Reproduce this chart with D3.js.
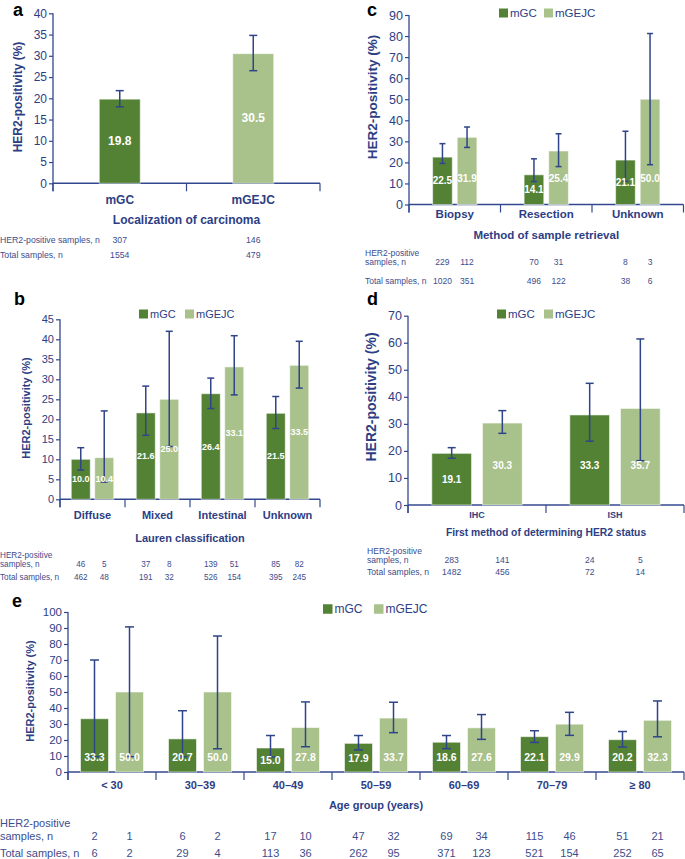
<!DOCTYPE html>
<html><head><meta charset="utf-8">
<script src="https://cdn.jsdelivr.net/npm/d3@7"></script>
<style>body{margin:0;background:#fff} svg{display:block}</style>
</head><body><svg id="chart" width="685" height="859"></svg>
<script>
// ---------------- DATA ----------------
const seriesNames = ["mGC", "mGEJC"];

// Panel a – localization of carcinoma
const aCategories = ["mGC", "mGEJC"];
const aValues = [19.8, 30.5];
const aLow = [18.0, 26.5];
const aHigh = [21.8, 34.8];
const aPositive = [307, 146];
const aTotal = [1554, 479];

// Panel b – Lauren classification
const bCategories = ["Diffuse", "Mixed", "Intestinal", "Unknown"];
const bGC = [10.0, 21.6, 26.4, 21.5];
const bGEJC = [10.4, 25.0, 33.1, 33.5];
const bGCLow = [7.3, 16.0, 22.7, 17.7];
const bGCHigh = [12.9, 28.3, 30.3, 25.7];
const bGEJCLow = [4.3, 13.2, 26.1, 27.8];
const bGEJCHigh = [22.1, 42.0, 40.9, 39.5];
const bGCPositive = [46, 37, 139, 85];
const bGEJCPositive = [5, 8, 51, 82];
const bGCTotal = [462, 191, 526, 395];
const bGEJCTotal = [48, 32, 154, 245];

// Panel c – method of sample retrieval
const cCategories = ["Biopsy", "Resection", "Unknown"];
const cGC = [22.5, 14.1, 21.1];
const cGEJC = [31.9, 25.4, 50.0];
const cGCLow = [19.5, 10.9, 11.0];
const cGCHigh = [28.9, 21.7, 34.8];
const cGEJCLow = [27.1, 18.0, 18.9];
const cGEJCHigh = [36.8, 33.6, 81.2];
const cGCPositive = [229, 70, 8];
const cGEJCPositive = [112, 31, 3];
const cGCTotal = [1020, 496, 38];
const cGEJCTotal = [351, 122, 6];

// Panel d – first method of determining HER2 status
const dCategories = ["IHC", "ISH"];
const dGC = [19.1, 33.3];
const dGEJC = [30.3, 35.7];
const dGCLow = [17.3, 23.6];
const dGCHigh = [21.2, 45.0];
const dGEJCLow = [26.5, 16.4];
const dGEJCHigh = [34.9, 61.4];
const dGCPositive = [283, 24];
const dGEJCPositive = [141, 5];
const dGCTotal = [1482, 72];
const dGEJCTotal = [456, 14];

// Panel e – age group
const eCategories = ["< 30", "30–39", "40–49", "50–59", "60–69", "70–79", "≥ 80"];
const eGC = [33.3, 20.7, 15.0, 17.9, 18.6, 22.1, 20.2];
const eGEJC = [50.0, 50.0, 27.8, 33.7, 27.6, 29.9, 32.3];
const eGCLow = [9.6, 9.6, 9.4, 13.8, 14.6, 18.5, 15.6];
const eGCHigh = [70.0, 38.3, 22.8, 22.8, 22.8, 25.8, 25.3];
const eGEJCLow = [9.6, 14.5, 15.8, 24.6, 20.4, 22.9, 22.0];
const eGEJCHigh = [90.7, 85.0, 43.8, 43.6, 35.9, 37.3, 44.4];
const eGCPositive = [2, 6, 17, 47, 69, 115, 51];
const eGEJCPositive = [1, 2, 10, 32, 34, 46, 21];
const eGCTotal = [6, 29, 113, 262, 371, 521, 252];
const eGEJCTotal = [2, 4, 36, 95, 123, 154, 65];

// ---------------- STYLE ----------------
const FONT = "'Liberation Sans', Arial, Helvetica, sans-serif";
const NAVY = "#2d3e84";
const AXIS = "#34488f";
const ERR = "#2f4589";
const TABLE = "#3d4d8c";
const GC_COLOR = "#548235";
const GEJC_COLOR = "#a9c18b";
const colors = [GC_COLOR, GEJC_COLOR];

const svg = d3.select("#chart");

function drawPanel(o) {
  const g = svg.append("g");
  const x = d3.scaleBand().domain(o.cats).range([o.x0, o.x1]).paddingInner(0).paddingOuter(0);
  const y = d3.scaleLinear().domain([0, o.max]).range([o.y0, o.y1]);
  const inner = d3.scaleBand().domain(o.series.map(s => s.name))
    .range([0, x.bandwidth()]).paddingInner(o.pi).paddingOuter(o.po);

  // Y axis
  const ya = g.append("g").attr("transform", `translate(${o.x0},0)`)
    .call(d3.axisLeft(y).tickValues(d3.range(0, o.max + 0.001, o.step))
      .tickSize(4).tickPadding(2).tickSizeOuter(0));
  ya.select(".domain").remove();
  ya.selectAll("line").attr("stroke", AXIS).attr("stroke-width", 1.2);
  ya.selectAll("text").attr("fill", NAVY).style("font-family", FONT)
    .style("font-size", o.tickFont + "px");
  g.append("line").attr("x1", o.x0).attr("x2", o.x0)
    .attr("y1", y(o.max)).attr("y2", o.y0 + 8)
    .attr("stroke", AXIS).attr("stroke-width", 1.3);

  // X axis line + boundary ticks
  g.append("line").attr("x1", o.x0).attr("x2", o.x1).attr("y1", o.y0).attr("y2", o.y0)
    .attr("stroke", AXIS).attr("stroke-width", 1.5);
  const bounds = d3.range(o.cats.length + 1).map(i => o.x0 + i * x.step());
  g.selectAll(".bt").data(bounds).join("line")
    .attr("x1", d => d).attr("x2", d => d).attr("y1", o.y0).attr("y2", o.y0 + 8)
    .attr("stroke", AXIS).attr("stroke-width", 1.2);

  // category labels
  const xa = g.append("g").attr("transform", `translate(0,${o.y0})`)
    .call(d3.axisBottom(x).tickSize(0).tickSizeOuter(0));
  xa.select(".domain").remove();
  xa.selectAll("text").attr("y", o.catBase - o.y0).attr("dy", 0)
    .attr("fill", NAVY).style("font-family", FONT).style("font-weight", "bold")
    .style("font-size", o.catFont + "px");

  // axis title
  g.append("text").attr("x", (o.x0 + o.x1) / 2).attr("y", o.titleBase)
    .attr("text-anchor", "middle").attr("fill", NAVY).style("font-family", FONT)
    .style("font-weight", "bold").style("font-size", o.titleFont + "px").text(o.title);

  // y axis title
  g.append("text").attr("transform", `translate(${o.ytX},${o.ytY}) rotate(-90)`)
    .attr("text-anchor", "middle").attr("dominant-baseline", "central")
    .attr("fill", NAVY).style("font-family", FONT).style("font-weight", "bold")
    .style("font-size", o.ytFont + "px").text("HER2-positivity (%)");

  // bars
  const items = [];
  o.series.forEach((s, si) => {
    o.cats.forEach((c, ci) => {
      items.push({
        cx: x(c) + inner(s.name) + inner.bandwidth() / 2,
        left: x(c) + inner(s.name),
        v: s.values[ci], lo: s.low[ci], hi: s.high[ci],
        pos: s.pos[ci], tot: s.tot[ci],
        color: o.colorByCat ? colors[ci] : colors[si]
      });
    });
  });
  g.selectAll(".bar").data(items).join("rect")
    .attr("x", d => d.left).attr("width", inner.bandwidth())
    .attr("y", d => y(d.v)).attr("height", d => o.y0 - y(d.v))
    .attr("fill", d => d.color)
    .attr("stroke", "rgba(255,255,255,0.55)").attr("stroke-width", 1);

  // error bars
  const eb = g.selectAll(".eb").data(items).join("g");
  eb.append("line").attr("x1", d => d.cx).attr("x2", d => d.cx)
    .attr("y1", d => y(d.lo)).attr("y2", d => y(d.hi))
    .attr("stroke", ERR).attr("stroke-width", 1.5);
  ["lo", "hi"].forEach(k => {
    eb.append("line").attr("x1", d => d.cx - o.cap / 2).attr("x2", d => d.cx + o.cap / 2)
      .attr("y1", d => y(d[k])).attr("y2", d => y(d[k]))
      .attr("stroke", ERR).attr("stroke-width", 1.5);
  });

  // value labels
  g.selectAll(".vl").data(items).join("text")
    .attr("x", d => d.cx)
    .attr("y", d => o.y0 - Math.min((o.y0 - y(d.v)) / 2, o.labelCap))
    .attr("text-anchor", "middle").attr("dominant-baseline", "central")
    .attr("fill", "#fff").style("font-family", FONT).style("font-weight", "bold")
    .style("font-size", o.valFont + "px").text(d => d.v.toFixed(1));

  // table
  const tstyle = sel => sel.attr("fill", TABLE).style("font-family", FONT)
    .style("font-size", o.tableFont + "px");
  if (o.posTwoLine) {
    tstyle(g.append("text").attr("x", o.rowX).attr("y", o.row1a).text("HER2-positive"));
    tstyle(g.append("text").attr("x", o.rowX).attr("y", o.row1).text("samples, n"));
  } else {
    tstyle(g.append("text").attr("x", o.rowX).attr("y", o.row1).text("HER2-positive samples, n"));
  }
  tstyle(g.append("text").attr("x", o.rowX).attr("y", o.row2).text("Total samples, n"));
  tstyle(g.selectAll(".tp").data(items).join("text")
    .attr("x", d => d.cx).attr("y", o.row1).attr("text-anchor", "middle").text(d => d.pos));
  tstyle(g.selectAll(".tt").data(items).join("text")
    .attr("x", d => d.cx).attr("y", o.row2).attr("text-anchor", "middle").text(d => d.tot));

  // legend
  if (o.legend) {
    const L = o.legend;
    seriesNames.forEach((n, i) => {
      g.append("rect").attr("x", L.xs[i]).attr("y", L.y - L.sq / 2)
        .attr("width", L.sq).attr("height", L.sq).attr("fill", colors[i]);
      g.append("text").attr("x", L.xs[i] + L.sq + 2).attr("y", L.y)
        .attr("dominant-baseline", "central").attr("fill", NAVY)
        .style("font-family", FONT).style("font-size", L.font + "px").text(n);
    });
  }

  // panel letter
  g.append("text").attr("x", o.letterX).attr("y", o.letterY)
    .attr("fill", "#000").style("font-family", FONT).style("font-weight", "bold")
    .style("font-size", "18px").text(o.letter);
}

// Panel a
drawPanel({
  letter: "a", letterX: 13, letterY: 16,
  cats: aCategories, colorByCat: true,
  series: [{ name: "v", values: aValues, low: aLow, high: aHigh, pos: aPositive, tot: aTotal }],
  x0: 53, x1: 320, y0: 183.3, y1: 13.3, max: 40, step: 5,
  pi: 0, po: 1.13, cap: 8, labelCap: Infinity,
  tickFont: 12, catFont: 12, catBase: 204, titleFont: 12, titleBase: 224,
  title: "Localization of carcinoma", ytX: 18, ytY: 97, ytFont: 12,
  valFont: 12, tableFont: 8.7, rowX: 0, row1: 243, row2: 258
});

// Panel b
drawPanel({
  letter: "b", letterX: 14, letterY: 305,
  cats: bCategories,
  series: [
    { name: "mGC", values: bGC, low: bGCLow, high: bGCHigh, pos: bGCPositive, tot: bGCTotal },
    { name: "mGEJC", values: bGEJC, low: bGEJCLow, high: bGEJCHigh, pos: bGEJCPositive, tot: bGEJCTotal }
  ],
  x0: 60, x1: 320, y0: 499.3, y1: 319.3, max: 45, step: 5,
  pi: 0.19, po: 0.48, cap: 7, labelCap: Infinity,
  tickFont: 11, catFont: 11, catBase: 519, titleFont: 11, titleBase: 542,
  title: "Lauren classification", ytX: 26, ytY: 408, ytFont: 11,
  valFont: 9, tableFont: 8.2, rowX: 0, posTwoLine: true, row1a: 558, row1: 567, row2: 580,
  legend: { xs: [139, 185], y: 314, sq: 9, font: 11 }
});

// Panel c
drawPanel({
  letter: "c", letterX: 367, letterY: 16,
  cats: cCategories,
  series: [
    { name: "mGC", values: cGC, low: cGCLow, high: cGCHigh, pos: cGCPositive, tot: cGCTotal },
    { name: "mGEJC", values: cGEJC, low: cGEJCLow, high: cGEJCHigh, pos: cGEJCPositive, tot: cGEJCTotal }
  ],
  x0: 409, x1: 683.5, y0: 204.5, y1: 15, max: 90, step: 10,
  pi: 0.2, po: 0.96, cap: 6, labelCap: 26,
  tickFont: 12.5, catFont: 11.5, catBase: 218, titleFont: 11.5, titleBase: 239,
  title: "Method of sample retrieval", ytX: 372, ytY: 97, ytFont: 13.5,
  valFont: 10, tableFont: 8.5, rowX: 365, posTwoLine: true, row1a: 256, row1: 265, row2: 284,
  legend: { xs: [499, 544], y: 13, sq: 9, font: 11.5 }
});

// Panel d
drawPanel({
  letter: "d", letterX: 367, letterY: 305,
  cats: dCategories,
  series: [
    { name: "mGC", values: dGC, low: dGCLow, high: dGCHigh, pos: dGCPositive, tot: dGCTotal },
    { name: "mGEJC", values: dGEJC, low: dGEJCLow, high: dGEJCHigh, pos: dGEJCPositive, tot: dGEJCTotal }
  ],
  x0: 408, x1: 684, y0: 505, y1: 315.7, max: 70, step: 10,
  pi: 0.216, po: 0.47, cap: 8, labelCap: 40,
  tickFont: 12.5, catFont: 9, catBase: 518, titleFont: 10.3, titleBase: 536,
  title: "First method of determining HER2 status", ytX: 371, ytY: 397, ytFont: 14,
  valFont: 10, tableFont: 8.6, rowX: 367, posTwoLine: true, row1a: 554, row1: 563, row2: 575,
  legend: { xs: [497, 544], y: 314, sq: 9, font: 11.5 }
});

// Panel e
drawPanel({
  letter: "e", letterX: 12, letterY: 607,
  cats: eCategories,
  series: [
    { name: "mGC", values: eGC, low: eGCLow, high: eGCHigh, pos: eGCPositive, tot: eGCTotal },
    { name: "mGEJC", values: eGEJC, low: eGEJCLow, high: eGEJCHigh, pos: eGEJCPositive, tot: eGEJCTotal }
  ],
  x0: 68, x1: 684, y0: 772, y1: 612, max: 100, step: 10,
  pi: 0.2, po: 0.357, cap: 9, labelCap: 15,
  tickFont: 11.5, catFont: 11, catBase: 789, titleFont: 11, titleBase: 809,
  title: "Age group (years)", ytX: 30, ytY: 691, ytFont: 11,
  valFont: 10.5, tableFont: 11, rowX: 0, posTwoLine: true, row1a: 827, row1: 840, row2: 857,
  legend: { xs: [323, 374], y: 609, sq: 9.5, font: 12 }
});
</script></body></html>
